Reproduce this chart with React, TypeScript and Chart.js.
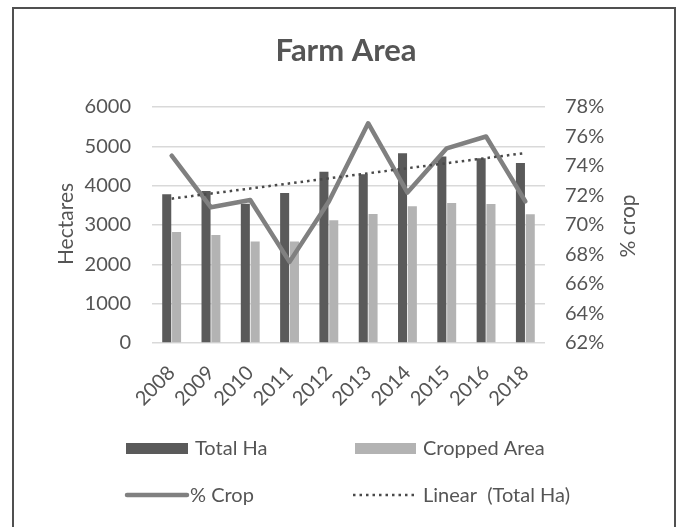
import React, { useEffect, useRef } from "react";
import { Chart, registerables } from "chart.js";

Chart.register(...registerables);

// Farm area by year
const years = ["2008", "2009", "2010", "2011", "2012", "2013", "2014", "2015", "2016", "2018"];
const totalHa = [3780, 3865, 3540, 3815, 4355, 4290, 4825, 4740, 4695, 4575];
const croppedArea = [2820, 2745, 2580, 2580, 3120, 3280, 3475, 3560, 3535, 3275];
const cropPct = [74.7, 71.2, 71.7, 67.5, 71.6, 76.9, 72.2, 75.2, 76.0, 71.6];
// Linear trend of Total Ha: drawn between its end values
const trendTotalHa = [3670, null, null, null, null, null, null, null, null, 4830];

const hectareTicks = { min: 0, max: 6000, step: 1000 };
const pctTicks = { min: 62, max: 78, step: 2 };

const FONT = "Lato, 'Noto Sans', sans-serif";
const TEXT = "#555555";
const DARK = "#5a5a5a";
const LIGHT = "#b3b3b3";
const LINE = "#808080";
const DOTS = "#4a4a4a";

const decor = {
  id: "decor",
  beforeDraw(chart: any) {
    const { ctx, width, height } = chart;
    ctx.save();
    ctx.fillStyle = "#ffffff";
    ctx.fillRect(0, 0, width, height);
    ctx.restore();
  },
  afterDraw(chart: any) {
    const { ctx } = chart;
    ctx.save();
    // frame
    ctx.strokeStyle = "#505050";
    ctx.lineWidth = 2;
    ctx.strokeRect(13, 8, 662, 560);

    ctx.fillStyle = TEXT;
    ctx.textBaseline = "middle";

    // title
    ctx.font = `bold 31px ${FONT}`;
    ctx.textAlign = "center";
    ctx.fillText("Farm Area", 346, 51);

    // axis titles
    ctx.font = `21px ${FONT}`;
    ctx.save();
    ctx.translate(66, 224);
    ctx.rotate(-Math.PI / 2);
    ctx.fillText("Hectares", 0, 0);
    ctx.restore();
    ctx.save();
    ctx.translate(628, 226);
    ctx.rotate(-Math.PI / 2);
    ctx.fillText("% crop", 0, 0);
    ctx.restore();

    // legend
    ctx.textAlign = "left";
    ctx.font = `20px ${FONT}`;
    ctx.fillStyle = DARK;
    ctx.fillRect(126, 443, 62, 11);
    ctx.fillStyle = LIGHT;
    ctx.fillRect(355, 443, 61, 11);

    ctx.strokeStyle = LINE;
    ctx.lineWidth = 4.5;
    ctx.lineCap = "round";
    ctx.beginPath();
    ctx.moveTo(127, 495);
    ctx.lineTo(187, 495);
    ctx.stroke();

    ctx.strokeStyle = DOTS;
    ctx.lineWidth = 2.5;
    ctx.lineCap = "butt";
    ctx.setLineDash([2.5, 4]);
    ctx.beginPath();
    ctx.moveTo(353, 495);
    ctx.lineTo(414, 495);
    ctx.stroke();
    ctx.setLineDash([]);

    ctx.fillStyle = TEXT;
    ctx.fillText("Total Ha", 195, 449);
    ctx.fillText("Cropped Area", 423, 449);
    ctx.fillText("% Crop", 190, 496);
    ctx.fillText("Linear  (Total Ha)", 423, 496);
    ctx.restore();
  },
};

export default function App() {
  const ref = useRef<HTMLCanvasElement | null>(null);

  useEffect(() => {
    if (!ref.current) return;
    const chart = new Chart(ref.current, {
      data: {
        labels: years,
        datasets: [
          {
            type: "line",
            label: "Linear  (Total Ha)",
            data: trendTotalHa,
            yAxisID: "y",
            borderColor: DOTS,
            borderWidth: 2.5,
            borderDash: [2.5, 4],
            spanGaps: true,
            pointRadius: 0,
            order: 0,
          },
          {
            type: "line",
            label: "% Crop",
            data: cropPct,
            yAxisID: "y1",
            borderColor: LINE,
            borderWidth: 4.5,
            borderJoinStyle: "round",
            borderCapStyle: "round",
            pointRadius: 0,
            tension: 0,
            order: 1,
          },
          {
            type: "bar",
            label: "Total Ha",
            data: totalHa,
            yAxisID: "y",
            backgroundColor: DARK,
            categoryPercentage: 0.5,
            barPercentage: 0.92,
            order: 2,
          },
          {
            type: "bar",
            label: "Cropped Area",
            data: croppedArea,
            yAxisID: "y",
            backgroundColor: LIGHT,
            categoryPercentage: 0.5,
            barPercentage: 0.92,
            order: 3,
          },
        ],
      } as any,
      options: {
        responsive: false,
        animation: false,
        layout: { padding: { left: 0, right: 0, top: 107, bottom: 0 } },
        plugins: {
          legend: { display: false },
          title: { display: false },
          tooltip: { enabled: false },
        },
        scales: {
          x: {
            offset: true,
            grid: { display: false },
            border: { display: false },
            ticks: {
              color: TEXT,
              font: { family: FONT, size: 20 },
              minRotation: 45,
              maxRotation: 45,
              padding: 10,
              autoSkip: false,
            },
            afterFit(scale: any) {
              scale.height = 184;
            },
          },
          y: {
            position: "left",
            min: hectareTicks.min,
            max: hectareTicks.max,
            grid: { color: "#d9d9d9", lineWidth: 1.5, drawTicks: false },
            border: { display: false },
            ticks: {
              stepSize: hectareTicks.step,
              color: TEXT,
              font: { family: FONT, size: 20 },
              padding: 21,
              callback: (v: any) => String(Math.round(Number(v))),
            },
            afterFit(scale: any) {
              scale.width = 152;
            },
          },
          y1: {
            position: "right",
            min: pctTicks.min,
            max: pctTicks.max,
            grid: { display: false, drawTicks: false },
            border: { display: false },
            ticks: {
              stepSize: pctTicks.step,
              color: TEXT,
              font: { family: FONT, size: 20 },
              padding: 20,
              callback: (v: any) => `${Math.round(Number(v))}%`,
            },
            afterFit(scale: any) {
              scale.width = 134;
            },
          },
        },
      } as any,
      plugins: [decor],
    });
    return () => chart.destroy();
  }, []);

  return (
    <div style={{ position: "fixed", left: 0, top: 0, width: 679, height: 527, overflow: "hidden" }}>
      <canvas ref={ref} width={679} height={527} style={{ display: "block" }} />
    </div>
  );
}
